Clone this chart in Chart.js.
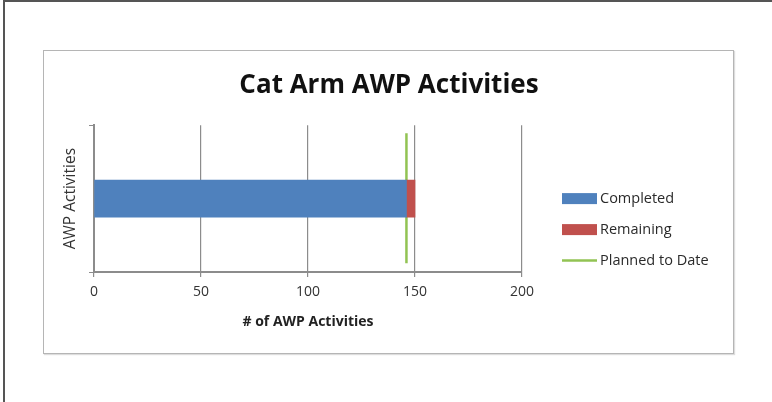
<!DOCTYPE html>
<html lang="en">
<head>
  <meta charset="UTF-8">
  <title>Cat Arm AWP Activities</title>
  <script src="https://cdn.jsdelivr.net/npm/chart.js"></script>
  <style>
    html, body { margin: 0; background: #fff; overflow: hidden; width: 772px; height: 402px; }
    #frame {
      position: absolute; left: 3px; top: 0; width: 820px; height: 450px;
      border-left: 2px solid #555; border-top: 2px solid #555; box-sizing: border-box;
    }
    #box {
      position: absolute; left: 43px; top: 50px; width: 689px; height: 302px;
      border: 1px solid #b5b5b5; box-shadow: 1px 1px 1px #ddd;
    }
    #awpChart { position: absolute; left: 0; top: 0; }
  </style>
</head>
<body>
  <div id="frame"></div>
  <div id="box"></div>
  <canvas id="awpChart" width="772" height="402"></canvas>

  <script>
    // values
    const categories = [''];
    const completed = [146];
    const remaining = [4];
    const plannedToDate = 146;
    const plannedSpan = [0.06, 0.945];   // height of the marker within the plot
    const xTicks = [0, 50, 100, 150, 200];

    const FONT = '"Open Sans", "Liberation Sans", sans-serif';

    // legend drawn to the right of the plot, Excel style
    const sideLegend = {
      id: 'sideLegend',
      afterDraw(chart) {
        const ctx = chart.ctx;
        const area = chart.chartArea;
        const x0 = area.right + 40;
        let y = (area.top + area.bottom) / 2;
        ctx.save();
        ctx.font = '14.5px ' + FONT;
        ctx.textBaseline = 'middle';
        chart.data.datasets.forEach(ds => {
          if (ds.type === 'line') {
            ctx.strokeStyle = ds.borderColor;
            ctx.lineWidth = 2.5;
            ctx.beginPath();
            ctx.moveTo(x0, y);
            ctx.lineTo(x0 + 35, y);
            ctx.stroke();
          } else {
            ctx.fillStyle = ds.backgroundColor;
            ctx.fillRect(x0, y - 5.5, 35, 11);
          }
          ctx.fillStyle = '#2a2a2a';
          ctx.fillText(ds.label, x0 + 38, y);
          y += 31;
        });
        ctx.restore();
      }
    };

    const ctx = document.getElementById('awpChart').getContext('2d');
    new Chart(ctx, {
      type: 'bar',
      data: {
        labels: categories,
        datasets: [
          { label: 'Completed', data: completed, backgroundColor: '#4F81BD', barThickness: 37, grouped: false },
          { label: 'Remaining', data: remaining, backgroundColor: '#C0504D', barThickness: 37, grouped: false },
          {
            type: 'line', label: 'Planned to Date', indexAxis: 'x', yAxisID: 'y2',
            data: plannedSpan.map(v => ({ x: plannedToDate, y: v })),
            borderColor: '#92C353', borderWidth: 2.5, pointRadius: 0, fill: false
          }
        ]
      },
      options: {
        indexAxis: 'y',
        responsive: false,
        animation: false,
        layout: { padding: { left: 50, top: 50, right: 44, bottom: 68 } },
        plugins: {
          legend: { display: false },
          tooltip: { enabled: false },
          title: {
            display: true,
            text: 'Cat Arm AWP Activities',
            color: '#111',
            font: { family: FONT, size: 26, weight: 'bold' },
            padding: { top: 20, bottom: 24 }
          }
        },
        scales: {
          x: {
            stacked: true,
            min: 0, max: 200,
            afterBuildTicks(scale) { scale.ticks = xTicks.map(v => ({ value: v })); },
            afterFit(scale) { scale.height = 62; },
            grid: { color: '#8c8c8c', lineWidth: 1.2, tickLength: 5, tickColor: '#8c8c8c' },
            border: { color: '#8c8c8c', width: 2 },
            ticks: { color: '#333', padding: 7, font: { family: FONT, size: 14 } },
            title: {
              display: true, text: '# of AWP Activities', color: '#222',
              font: { family: FONT, size: 14, weight: 'bold' },
              padding: { top: 0, bottom: 3.2 }
            }
          },
          y: {
            stacked: true,
            afterFit(scale) { scale.width = 44; },
            grid: { drawOnChartArea: false, tickLength: 5, color: '#8c8c8c' },
            border: { color: '#8c8c8c', width: 2 },
            ticks: { display: false },
            title: {
              display: true, text: 'AWP Activities', color: '#333',
              font: { family: FONT, size: 15.5 },
              padding: { top: 11, bottom: 0 }
            }
          },
          // holds the planned marker and keeps room for the legend on the right
          y2: {
            type: 'linear', position: 'right', min: 0, max: 1, offset: false,
            afterFit(scale) { scale.width = 206; },
            grid: { display: false },
            border: { display: false },
            ticks: { display: false }
          }
        }
      },
      plugins: [sideLegend]
    });
  </script>
</body>
</html>
